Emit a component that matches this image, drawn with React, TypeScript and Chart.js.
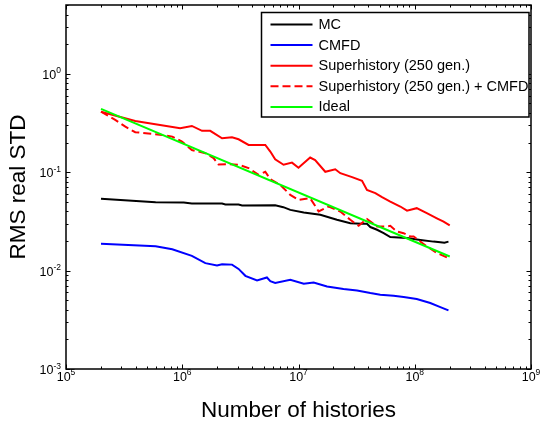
import React, { useEffect, useRef } from "react";
import { Chart, registerables } from "chart.js";

Chart.register(...registerables);

// ---- data ----
const mcX = [2e5, 5.9e5, 1.03e6, 1.21e6, 2.2e6, 2.35e6, 3.05e6, 3.27e6, 6.3e6, 7.4e6, 8.5e6, 1.11e7, 1.54e7, 2.14e7, 2.79e7, 3.5e7, 3.88e7, 4.15e7, 4.74e7, 5.4e7, 6.16e7, 8.58e7, 1.12e8, 1.45e8, 1.66e8, 1.8e8, 1.95e8];
const mcY = [0.0536, 0.0496, 0.0491, 0.048, 0.048, 0.0469, 0.0469, 0.0458, 0.046, 0.0441, 0.0414, 0.039, 0.0369, 0.0328, 0.0303, 0.030, 0.0299, 0.0277, 0.026, 0.024, 0.0219, 0.0214, 0.0205, 0.0197, 0.0194, 0.0192, 0.0197];

const cmfdX = [2e5, 5.9e5, 8.2e5, 1.21e6, 1.58e6, 1.99e6, 2.2e6, 2.68e6, 3.05e6, 3.49e6, 4.4e6, 5.35e6, 5.72e6, 6.3e6, 8.5e6, 1.11e7, 1.35e7, 1.76e7, 2.44e7, 3.19e7, 4.15e7, 5.05e7, 6.58e7, 8.02e7, 1.04e8, 1.36e8, 1.66e8, 1.95e8];
const cmfdY = [0.0187, 0.0177, 0.0165, 0.0141, 0.0119, 0.0113, 0.0116, 0.0115, 0.0104, 0.00885, 0.00793, 0.00851, 0.0078, 0.0075, 0.00807, 0.00734, 0.00757, 0.0069, 0.00649, 0.00628, 0.00591, 0.00568, 0.00555, 0.00538, 0.00514, 0.00468, 0.00426, 0.00394];

const shX = [2e5, 3.94e5, 9.6e5, 1.21e6, 1.48e6, 1.74e6, 2.2e6, 2.68e6, 3.05e6, 3.72e6, 4.54e6, 5.18e6, 5.72e6, 6.3e6, 7.44e6, 8.79e6, 1.0e7, 1.26e7, 1.39e7, 1.7e7, 2.07e7, 2.29e7, 2.89e7, 3.52e7, 3.88e7, 4.58e7, 5.23e7, 6.16e7, 7.51e7, 8.58e7, 1.04e8, 1.27e8, 1.55e8, 1.77e8, 2.0e8];
const shY = [0.412, 0.332, 0.280, 0.295, 0.263, 0.263, 0.221, 0.226, 0.216, 0.189, 0.189, 0.189, 0.162, 0.135, 0.119, 0.125, 0.111, 0.141, 0.133, 0.101, 0.107, 0.0977, 0.089, 0.0816, 0.0661, 0.0612, 0.0557, 0.0503, 0.0448, 0.0407, 0.0431, 0.0383, 0.034, 0.0315, 0.0288];

const shCmfdX = [2e5, 2.65e5, 3.24e5, 3.94e5, 5.1e5, 6.7e5, 8.2e5, 9.95e5, 1.21e6, 1.58e6, 1.86e6, 2.05e6, 2.5e6, 3.05e6, 3.72e6, 4.54e6, 5.18e6, 5.72e6, 6.97e6, 8.5e6, 1.0e7, 1.26e7, 1.49e7, 1.82e7, 2.29e7, 2.79e7, 3.29e7, 3.88e7, 4.74e7, 5.58e7, 6.16e7, 7.04e7, 8.02e7, 9.16e7, 9.78e7, 1.27e8, 1.55e8, 1.95e8];
const shCmfdY = [0.412, 0.34, 0.29, 0.255, 0.247, 0.239, 0.23, 0.205, 0.168, 0.156, 0.139, 0.12, 0.121, 0.119, 0.110, 0.0939, 0.101, 0.085, 0.0743, 0.0588, 0.0524, 0.0544, 0.040, 0.0448, 0.0398, 0.0328, 0.0285, 0.0335, 0.028, 0.028, 0.0285, 0.0249, 0.024, 0.0222, 0.0222, 0.0176, 0.0151, 0.0134];

const idealX = [2e5, 2e8];
const idealY = [0.44, 0.0139];

const seriesNames = ["MC", "CMFD", "Superhistory (250 gen.)", "Superhistory (250 gen.) + CMFD", "Ideal"];
const seriesColors = ["#000000", "#0000ff", "#ff0000", "#ff0000", "#00ff00"];
const seriesDash = [[], [], [], [8, 4], []];

const xMajorTicks = [1e5, 1e6, 1e7, 1e8, 1e9];
const xTickExponents = ["5", "6", "7", "8", "9"];
const yMajorTicks = [1e-3, 1e-2, 1e-1, 1e0];
const yTickExponents = ["-3", "-2", "-1", "0"];
const xTitle = "Number of histories";
const yTitle = "RMS real STD";

const FONT = '"Liberation Sans", Arial, Helvetica, sans-serif';

const toPts = (xs: number[], ys: number[]) => xs.map((x, i) => ({ x, y: ys[i] }));

const decorPlugin = {
  id: "decor",
  afterDraw(chart: any) {
    const ctx = chart.ctx as CanvasRenderingContext2D;
    const xs = chart.scales.x;
    const ys = chart.scales.y;
    const a = chart.chartArea;
    ctx.save();
    ctx.strokeStyle = "#000";
    ctx.fillStyle = "#000";
    // box
    ctx.lineWidth = 1.5;
    ctx.strokeRect(a.left, a.top, a.right - a.left, a.bottom - a.top);
    // ticks
    ctx.lineWidth = 1;
    const MAJ = 4.5, MIN = 2.5;
    const xMin = xs.min, xMax = xs.max, yMin = ys.min, yMax = ys.max;
    const tickX = (v: number, len: number) => {
      const p = Math.round(xs.getPixelForValue(v)) + 0.5;
      ctx.beginPath();
      ctx.moveTo(p, a.bottom); ctx.lineTo(p, a.bottom - len);
      ctx.moveTo(p, a.top); ctx.lineTo(p, a.top + len);
      ctx.stroke();
    };
    const tickY = (v: number, len: number) => {
      const p = Math.round(ys.getPixelForValue(v)) + 0.5;
      ctx.beginPath();
      ctx.moveTo(a.left, p); ctx.lineTo(a.left + len, p);
      ctx.moveTo(a.right, p); ctx.lineTo(a.right - len, p);
      ctx.stroke();
    };
    for (let e = Math.floor(Math.log10(xMin)); e <= Math.ceil(Math.log10(xMax)); e++) {
      for (let m = 1; m <= 9; m++) {
        const v = m * Math.pow(10, e);
        if (v < xMin * 0.999 || v > xMax * 1.001) continue;
        tickX(v, m === 1 ? MAJ : MIN);
      }
    }
    for (let e = Math.floor(Math.log10(yMin)); e <= Math.ceil(Math.log10(yMax)); e++) {
      for (let m = 1; m <= 9; m++) {
        const v = m * Math.pow(10, e);
        if (v < yMin * 0.999 || v > yMax * 1.001) continue;
        tickY(v, m === 1 ? MAJ : MIN);
      }
    }
    // tick labels
    const baseFont = `12.5px ${FONT}`;
    const expFont = `8.5px ${FONT}`;
    ctx.textBaseline = "alphabetic";
    ctx.textAlign = "left";
    xMajorTicks.forEach((v, i) => {
      const p = xs.getPixelForValue(v);
      ctx.font = baseFont;
      const w1 = ctx.measureText("10").width;
      ctx.font = expFont;
      const w2 = ctx.measureText(xTickExponents[i]).width;
      const start = p - (w1 + w2) / 2;
      ctx.font = baseFont;
      ctx.fillText("10", start, a.bottom + 12);
      ctx.font = expFont;
      ctx.fillText(xTickExponents[i], start + w1, a.bottom + 6);
    });
    yMajorTicks.forEach((v, i) => {
      const p = ys.getPixelForValue(v);
      ctx.font = expFont;
      const w2 = ctx.measureText(yTickExponents[i]).width;
      ctx.font = baseFont;
      const w1 = ctx.measureText("10").width;
      const right = a.left - 5;
      ctx.fillText("10", right - w2 - w1, p + 5);
      ctx.font = expFont;
      ctx.fillText(yTickExponents[i], right - w2, p - 0.5);
    });
    // titles
    ctx.font = `22.5px ${FONT}`;
    ctx.textAlign = "center";
    ctx.fillText(xTitle, (a.left + a.right) / 2, 416.5);
    ctx.save();
    ctx.translate(25, (a.top + a.bottom) / 2);
    ctx.rotate(-Math.PI / 2);
    ctx.fillText(yTitle, 0, 0);
    ctx.restore();
    // legend
    const lx = 261.5, ly = 12.5, lw = 267.5, lh = 104.5;
    ctx.fillStyle = "#fff";
    ctx.fillRect(lx, ly, lw, lh);
    ctx.lineWidth = 1.5;
    ctx.strokeStyle = "#000";
    ctx.strokeRect(lx, ly, lw, lh);
    ctx.font = `14.5px ${FONT}`;
    ctx.textAlign = "left";
    ctx.textBaseline = "middle";
    seriesNames.forEach((name, i) => {
      const yy = 24.5 + i * 20.6;
      ctx.strokeStyle = seriesColors[i];
      ctx.lineWidth = 2;
      ctx.setLineDash(seriesDash[i]);
      ctx.beginPath();
      ctx.moveTo(270.5, yy);
      ctx.lineTo(312.5, yy);
      ctx.stroke();
      ctx.setLineDash([]);
      ctx.fillStyle = "#000";
      ctx.fillText(name, 318.5, yy + 0.5);
    });
    ctx.restore();
  },
};

export default function App() {
  const ref = useRef<HTMLCanvasElement | null>(null);
  useEffect(() => {
    if (!ref.current) return;
    const allX = [mcX, cmfdX, shX, shCmfdX, idealX];
    const allY = [mcY, cmfdY, shY, shCmfdY, idealY];
    const chart = new Chart(ref.current, {
      type: "line",
      data: {
        datasets: seriesNames.map((name, i) => ({
          label: name,
          data: toPts(allX[i], allY[i]),
          borderColor: seriesColors[i],
          backgroundColor: seriesColors[i],
          borderWidth: 2,
          borderDash: seriesDash[i],
          pointRadius: 0,
          tension: 0,
          fill: false,
          order: 5 - i,
        })),
      },
      options: {
        animation: false,
        responsive: false,
        devicePixelRatio: 1,
        layout: { padding: { left: 66, top: 5, right: 10, bottom: 54 } },
        plugins: { legend: { display: false }, tooltip: { enabled: false } },
        scales: {
          x: { type: "logarithmic", min: 1e5, max: 1e9, display: false },
          y: { type: "logarithmic", min: 1e-3, max: 5, display: false },
        },
      },
      plugins: [decorPlugin],
    });
    return () => chart.destroy();
  }, []);
  return (
    <div style={{ position: "absolute", left: 0, top: 0, width: 541, height: 423, background: "#fff" }}>
      <canvas ref={ref} width={541} height={423} style={{ display: "block" }} />
    </div>
  );
}
